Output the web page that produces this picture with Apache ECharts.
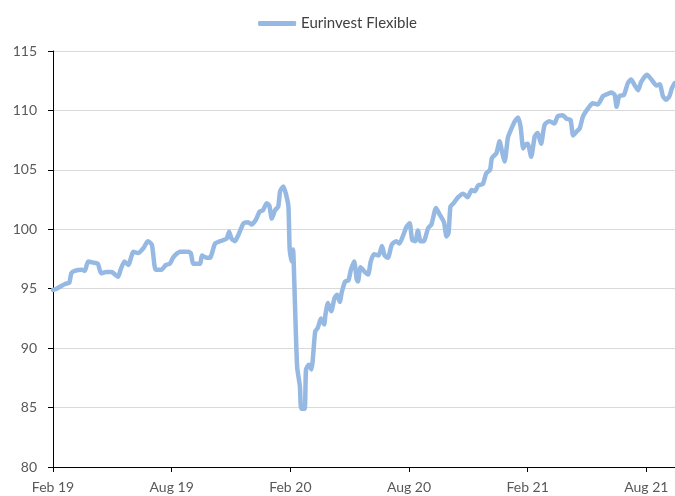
<!DOCTYPE html>
<html>
<head>
<meta charset="utf-8">
<script src="https://cdn.jsdelivr.net/npm/echarts@6/dist/echarts.min.js"></script>
<style>
  html, body { margin: 0; padding: 0; background: #fff; }
  #plot { width: 675px; height: 496px; }
</style>
</head>
<body>
<div id="plot"></div>
<script>
var seriesName = 'Eurinvest Flexible';
var tickLabels = ['Feb 19', 'Aug 19', 'Feb 20', 'Aug 20', 'Feb 21', 'Aug 21'];

var dates = [
	'2019-02-01','2019-02-06','2019-02-18','2019-02-24','2019-02-27','2019-03-04','2019-03-15','2019-03-20','2019-03-25',
	'2019-04-02','2019-04-09','2019-04-14','2019-04-22','2019-04-30','2019-05-05','2019-05-10','2019-05-14','2019-05-20',
	'2019-05-26','2019-06-03','2019-06-10','2019-06-18','2019-06-25','2019-07-01','2019-07-07','2019-07-16','2019-07-23',
	'2019-07-29','2019-08-03','2019-08-06','2019-08-14','2019-08-27','2019-08-31','2019-09-04','2019-09-14','2019-09-17',
	'2019-09-24','2019-09-29','2019-10-07','2019-10-15','2019-10-25','2019-10-29','2019-11-02','2019-11-07','2019-11-12',
	'2019-11-20','2019-11-27','2019-12-02','2019-12-09','2019-12-15','2019-12-20','2019-12-26','2019-12-30','2020-01-03',
	'2020-01-08','2020-01-13','2020-01-16','2020-01-21','2020-01-25','2020-01-29','2020-01-31','2020-02-03','2020-02-05',
	'2020-02-07','2020-02-11','2020-02-15','2020-02-17','2020-02-22','2020-02-24','2020-02-28','2020-03-03','2020-03-05',
	'2020-03-09','2020-03-13','2020-03-18','2020-03-23','2020-03-25','2020-03-29','2020-04-03','2020-04-08','2020-04-12',
	'2020-04-16','2020-04-19','2020-04-24','2020-04-29','2020-05-03','2020-05-08','2020-05-12','2020-05-14','2020-05-18',
	'2020-05-25','2020-05-30','2020-06-03','2020-06-08','2020-06-15','2020-06-20','2020-06-24','2020-06-29','2020-07-05',
	'2020-07-12','2020-07-17','2020-07-23','2020-07-28','2020-08-02','2020-08-06','2020-08-11','2020-08-15','2020-08-19',
	'2020-08-24','2020-08-31','2020-09-05','2020-09-12','2020-09-17','2020-09-24','2020-09-28','2020-10-01','2020-10-04',
	'2020-10-09','2020-10-16','2020-10-24','2020-10-31','2020-11-06','2020-11-11','2020-11-16','2020-11-23','2020-11-28',
	'2020-12-04','2020-12-07','2020-12-14','2020-12-19','2020-12-23','2020-12-27','2021-01-01','2021-01-06','2021-01-12',
	'2021-01-17','2021-01-21','2021-01-25','2021-01-28','2021-02-01','2021-02-06','2021-02-11','2021-02-15','2021-02-20',
	'2021-02-25','2021-03-04','2021-03-12','2021-03-17','2021-03-25','2021-03-31','2021-04-06','2021-04-10','2021-04-15',
	'2021-04-20','2021-04-25','2021-05-03','2021-05-10','2021-05-18','2021-05-26','2021-06-03','2021-06-08','2021-06-13',
	'2021-06-16','2021-06-20','2021-06-27','2021-07-03','2021-07-08','2021-07-14','2021-07-19','2021-07-24','2021-08-02',
	'2021-08-09','2021-08-17','2021-08-22','2021-08-27','2021-09-01','2021-09-06','2021-09-10','2021-09-14'
];

var values = [
	94.9, 95.0, 95.4, 95.5, 96.3, 96.5, 96.6, 96.5, 97.3,
	97.2, 97.1, 96.3, 96.4, 96.4, 96.2, 96.0, 96.6, 97.3,
	97.0, 98.1, 98.0, 98.4, 99.0, 98.7, 96.6, 96.6, 97.0,
	97.1, 97.6, 97.8, 98.1, 98.1, 98.0, 97.1, 97.1, 97.8,
	97.6, 97.6, 98.8, 99.0, 99.2, 99.8, 99.2, 99.0, 99.5,
	100.5, 100.6, 100.4, 100.8, 101.5, 101.6, 102.2, 102.0, 100.9,
	101.6, 101.9, 103.2, 103.6, 103.0, 101.9, 98.3, 97.3, 98.3,
	95.2, 88.4, 86.8, 84.9, 84.9, 88.2, 88.6, 88.2, 88.9,
	91.4, 91.7, 92.5, 92.0, 92.8, 93.8, 93.1, 94.2, 94.5,
	93.9, 94.7, 95.6, 95.7, 96.6, 97.3, 95.8, 95.6, 96.8,
	96.4, 96.2, 97.3, 97.9, 97.8, 98.6, 97.8, 97.6, 98.7,
	99.0, 98.8, 99.5, 100.2, 100.5, 99.1, 99.0, 99.9, 99.0,
	99.0, 100.1, 100.4, 101.8, 101.3, 100.6, 99.4, 99.7, 101.9,
	102.2, 102.7, 103.0, 102.7, 103.3, 103.2, 103.7, 103.8, 104.7,
	105.0, 106.0, 106.4, 107.4, 106.5, 105.7, 107.7, 108.4, 109.1,
	109.4, 108.6, 106.8, 107.1, 107.2, 106.1, 107.8, 108.1, 107.2,
	108.8, 109.1, 108.9, 109.5, 109.6, 109.3, 109.2, 107.9, 108.2,
	108.5, 109.5, 110.2, 110.6, 110.5, 111.2, 111.4, 111.5, 111.3,
	110.3, 111.2, 111.3, 112.3, 112.6, 112.1, 111.7, 112.4, 113.0,
	112.6, 112.1, 112.2, 111.2, 110.9, 111.2, 111.9, 112.3
];

// months since Feb 2019, fractional
function monthOffset (s) {
	var p = s.split('-');
	var y = +p[0], m = +p[1], d = +p[2];
	var dim = new Date(y, m, 0).getDate();
	return (y - 2019) * 12 + (m - 2) + (d - 1) / dim;
}

var points = [];
for (var i = 0; i < dates.length; i++) {
	points.push([monthOffset(dates[i]), values[i]]);
}

var labelFont = 'Lato, "Open Sans", sans-serif';

var option = {
	animation: false,
	legend: {
		top: 11,
		left: 'center',
		icon: 'roundRect',
		itemWidth: 38,
		itemHeight: 5,
		itemGap: 10,
		itemStyle: { borderWidth: 0 },
		data: [seriesName],
		textStyle: { color: '#404040', fontSize: 15, fontFamily: labelFont }
	},
	grid: { left: 53, right: 0, top: 51, bottom: 29, containLabel: false },
	xAxis: {
		type: 'value',
		min: 0,
		max: 31.45,
		interval: 6,
		axisLine: { show: true, lineStyle: { color: '#000', width: 1 } },
		axisTick: { show: true, length: 5, lineStyle: { color: '#000' } },
		splitLine: { show: false },
		axisLabel: {
			margin: 13,
			showMaxLabel: false,
			color: '#595959',
			fontSize: 14,
			fontFamily: labelFont,
			formatter: function (v) {
				if (Math.abs(v / 6 - Math.round(v / 6)) > 1e-6) return '';
				return tickLabels[Math.round(v / 6)] || '';
			}
		}
	},
	yAxis: {
		type: 'value',
		min: 80,
		max: 115,
		interval: 5,
		axisLine: { show: true, lineStyle: { color: '#000', width: 1 } },
		axisTick: { show: true, length: 5, lineStyle: { color: '#000' } },
		splitLine: { show: true, lineStyle: { color: '#D9D9D9', width: 1 } },
		axisLabel: { margin: 16, color: '#595959', fontSize: 14, fontFamily: labelFont }
	},
	series: [
		{
			name: seriesName,
			type: 'line',
			data: points,
			showSymbol: false,
			symbol: 'none',
			smooth: 0.2,
			lineStyle: { color: '#95B9E2', width: 4.5, cap: 'round', join: 'round' },
			itemStyle: { color: '#95B9E2' }
		}
	]
};

var myChart = echarts.init(document.getElementById('plot'));
myChart.setOption(option);
</script>
</body>
</html>
